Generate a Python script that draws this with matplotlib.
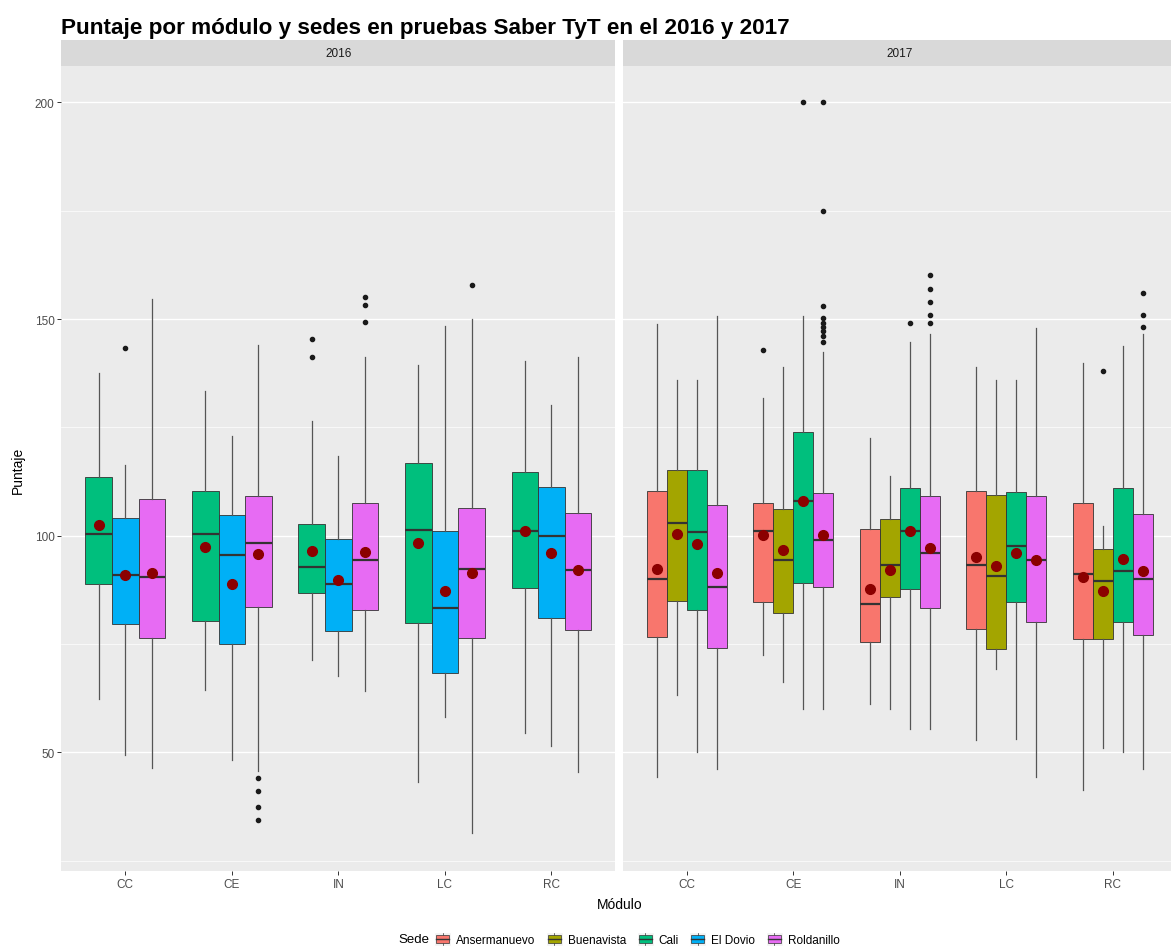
import matplotlib
matplotlib.use("Agg")
import matplotlib.pyplot as plt
from matplotlib.legend_handler import HandlerBase
from matplotlib.patches import Rectangle, Patch
from matplotlib.lines import Line2D

plt.rcParams['font.family'] = ['Liberation Sans', 'DejaVu Sans']

# datos
modulos = ["CC", "CE", "IN", "LC", "RC"]
anios = ["2016", "2017"]

sedes = ["Ansermanuevo", "Buenavista", "Cali", "El Dovio", "Roldanillo"]
colores = ["#F8766D", "#A3A500", "#00BF7D", "#00B0F6", "#E76BF3"]

sedes_2016 = ["Cali", "El Dovio", "Roldanillo"]
# una fila por sede, una columna por modulo
whislo_2016 = [[62.4, 64.4, 71.3, 43.2, 54.4],
               [49.3, 48.2, 67.6, 58.2, 51.4],
               [46.3, 45.8, 64.2, 31.4, 45.5]]
q1_2016 = [[88.9, 80.3, 86.7, 79.8, 87.9],
           [79.7, 75.1, 78.0, 68.3, 81.1],
           [76.4, 83.6, 82.8, 76.4, 78.3]]
med_2016 = [[100.5, 100.4, 92.9, 101.4, 101.0],
            [91.0, 95.6, 88.9, 83.4, 100.0],
            [90.4, 98.4, 94.4, 92.3, 92.2]]
q3_2016 = [[113.5, 110.3, 102.6, 116.8, 114.7],
           [104.2, 104.7, 99.2, 101.0, 111.2],
           [108.4, 109.2, 107.5, 106.5, 105.2]]
whishi_2016 = [[137.5, 133.4, 126.5, 139.4, 140.3],
               [116.4, 123.1, 118.4, 148.3, 130.2],
               [154.6, 144.1, 141.3, 150.0, 141.3]]
media_2016 = [[102.4, 97.4, 96.4, 98.4, 101.0],
              [90.9, 88.8, 89.8, 87.3, 96.0],
              [91.5, 95.8, 96.2, 91.4, 92.1]]
atipicos_2016 = [[[], [], [145.4, 141.3], [], []],
                 [[143.4], [], [], [], []],
                 [[], [44.2, 41.2, 37.5, 34.3], [155.0, 153.3, 149.3], [157.8], []]]

sedes_2017 = ["Ansermanuevo", "Buenavista", "Cali", "Roldanillo"]
whislo_2017 = [[44.3, 72.4, 61.2, 52.9, 41.4],
               [63.2, 66.3, 60.1, 69.3, 51.1],
               [50.0, 60.1, 55.5, 53.1, 50.0],
               [46.2, 60.1, 55.5, 44.3, 46.2]]
q1_2017 = [[76.6, 84.6, 75.5, 78.4, 76.2],
           [85.0, 82.1, 85.9, 73.9, 76.2],
           [82.9, 89.2, 87.6, 84.6, 80.0],
           [74.1, 88.1, 83.3, 80.0, 77.2]]
med_2017 = [[90.1, 101.0, 84.2, 93.2, 91.1],
            [103.0, 94.5, 93.2, 90.7, 89.6],
            [100.8, 108.1, 101.0, 97.6, 91.9],
            [88.2, 99.0, 96.1, 94.4, 90.1]]
q3_2017 = [[110.4, 107.6, 101.6, 110.4, 107.6],
           [115.1, 106.2, 103.9, 109.4, 97.0],
           [115.1, 124.0, 111.0, 110.0, 111.0],
           [107.1, 109.9, 109.1, 109.1, 105.0]]
whishi_2017 = [[148.9, 131.7, 122.6, 138.9, 139.8],
               [135.9, 138.9, 113.9, 135.9, 102.2],
               [135.9, 150.7, 144.8, 135.9, 143.7],
               [150.7, 142.5, 146.6, 148.0, 146.5]]
media_2017 = [[92.4, 100.2, 87.6, 95.0, 90.4],
              [100.3, 96.8, 92.2, 93.0, 87.3],
              [98.2, 108.1, 101.0, 96.1, 94.7],
              [91.5, 100.2, 97.2, 94.4, 91.9]]
atipicos_2017 = [[[], [142.9], [], [], []],
                 [[], [], [], [], [138.1]],
                 [[], [200.0], [149.0], [], []],
                 [[], [200.0, 175.0, 153.0, 150.3, 149.2, 148.2, 147.2, 146.2, 144.8],
                  [160.1, 157.0, 154.0, 150.9, 149.0], [], [156.1, 151.0, 148.2]]]

datos = {
    "2016": (sedes_2016, whislo_2016, q1_2016, med_2016, q3_2016, whishi_2016, media_2016, atipicos_2016),
    "2017": (sedes_2017, whislo_2017, q1_2017, med_2017, q3_2017, whishi_2017, media_2017, atipicos_2017),
}


class BoxKey(HandlerBase):
    # clave tipo ggplot: fondo gris, caja con mediana y bigotes
    def create_artists(self, legend, orig_handle, xdescent, ydescent, width, height, fontsize, trans):
        x0, y0 = -xdescent, -ydescent
        fondo = Rectangle((x0, y0), width, height, facecolor='#F2F2F2', edgecolor='white', transform=trans)
        caja = Rectangle((x0 + 0.125 * width, y0 + 0.25 * height), 0.75 * width, 0.5 * height,
                         facecolor=orig_handle.get_facecolor(), edgecolor='#333333', lw=0.5, transform=trans)
        med = Line2D([x0 + 0.125 * width, x0 + 0.875 * width], [y0 + 0.5 * height] * 2,
                     color='#333333', lw=1.0, transform=trans)
        big1 = Line2D([x0 + 0.5 * width] * 2, [y0 + 0.1 * height, y0 + 0.25 * height],
                      color='#333333', lw=0.5, transform=trans)
        big2 = Line2D([x0 + 0.5 * width] * 2, [y0 + 0.75 * height, y0 + 0.9 * height],
                      color='#333333', lw=0.5, transform=trans)
        return [fondo, big1, big2, caja, med]


W, H = 1171, 953
fig = plt.figure(figsize=(W / 100, H / 100), dpi=100)

panel_w = 554 / W
panel_b = 1 - 871.7 / H
panel_h = (871.7 - 67) / H
strip_h = 26 / H
lefts = [61.4 / W, 622.8 / W]

for k, anio in enumerate(anios):
    ax = fig.add_axes([lefts[k], panel_b, panel_w, panel_h])
    ax.set_facecolor('#EBEBEB')
    sedes_a, wlo, q1, med, q3, whi, media, atip = datos[anio]
    n = len(sedes_a)
    ancho = 0.75 / n
    for i, sede in enumerate(sedes_a):
        color = colores[sedes.index(sede)]
        stats = []
        for j in range(len(modulos)):
            stats.append(dict(whislo=wlo[i][j], q1=q1[i][j], med=med[i][j], q3=q3[i][j],
                              whishi=whi[i][j], mean=media[i][j], fliers=atip[i][j]))
        pos = [j + 1 - 0.375 + ancho * (i + 0.5) for j in range(len(modulos))]
        ax.bxp(stats, positions=pos, widths=ancho, patch_artist=True, showmeans=True,
               showcaps=False, manage_ticks=False,
               boxprops=dict(facecolor=color, edgecolor='#333333', lw=0.6),
               medianprops=dict(color='#333333', lw=1.6),
               whiskerprops=dict(color='#555555', lw=0.9),
               flierprops=dict(marker='o', markersize=3.0, markerfacecolor='#1A1A1A',
                               markeredgecolor='#1A1A1A'),
               meanprops=dict(marker='o', markersize=7, markerfacecolor='#8B0000',
                              markeredgecolor='#8B0000'))
    ax.set_xlim(0.4, 5.6)
    ax.set_ylim(22.7, 208.4)
    ax.set_xticks(range(1, len(modulos) + 1))
    ax.set_xticklabels(modulos)
    ax.set_yticks([50, 100, 150, 200])
    ax.set_yticks([25, 75, 125, 175], minor=True)
    ax.grid(axis='y', which='major', color='white', lw=1.0)
    ax.grid(axis='y', which='minor', color='white', lw=0.5)
    ax.set_axisbelow(True)
    ax.tick_params(axis='both', which='major', length=3, width=0.7, color='#333333',
                   labelcolor='#4D4D4D', labelsize=8.5, pad=2)
    ax.tick_params(axis='y', which='minor', length=0)
    if k == 1:
        ax.set_yticklabels([])
        ax.tick_params(axis='y', length=0)
    for s in ax.spines.values():
        s.set_visible(False)

    # franja del panel
    st = fig.add_axes([lefts[k], panel_b + panel_h, panel_w, strip_h])
    st.set_facecolor('#D9D9D9')
    st.set_xticks([])
    st.set_yticks([])
    for s in st.spines.values():
        s.set_visible(False)
    st.text(0.5, 0.5, anio, ha='center', va='center', fontsize=8.5, color='#1A1A1A',
            transform=st.transAxes)

fig.text(61 / W, 1 - 34 / H, "Puntaje por módulo y sedes en pruebas Saber TyT en el 2016 y 2017",
         fontsize=16.2, fontweight='bold', color='black', va='baseline', ha='left')
fig.text(18 / W, 1 - 470 / H, "Puntaje", rotation=90, ha='center', va='center', fontsize=10)
fig.text(620 / W, 1 - 905 / H, "Módulo", ha='center', va='center', fontsize=10)

# leyenda abajo: titulo a la izquierda y claves en una fila
fig.text(398 / W, 1 - 940 / H, "Sede", ha='left', va='center', fontsize=9.5)
handles = [Patch(facecolor=c) for c in colores]
fig.legend(handles, sedes, loc='center left', bbox_to_anchor=(434 / W, 1 - 940 / H), ncol=5,
           frameon=False, fontsize=8.5, handler_map={Patch: BoxKey()},
           handlelength=1.45, handleheight=1.45, handletextpad=0.4, columnspacing=0.9,
           borderpad=0, borderaxespad=0)

fig.savefig("out.png", dpi=100)
